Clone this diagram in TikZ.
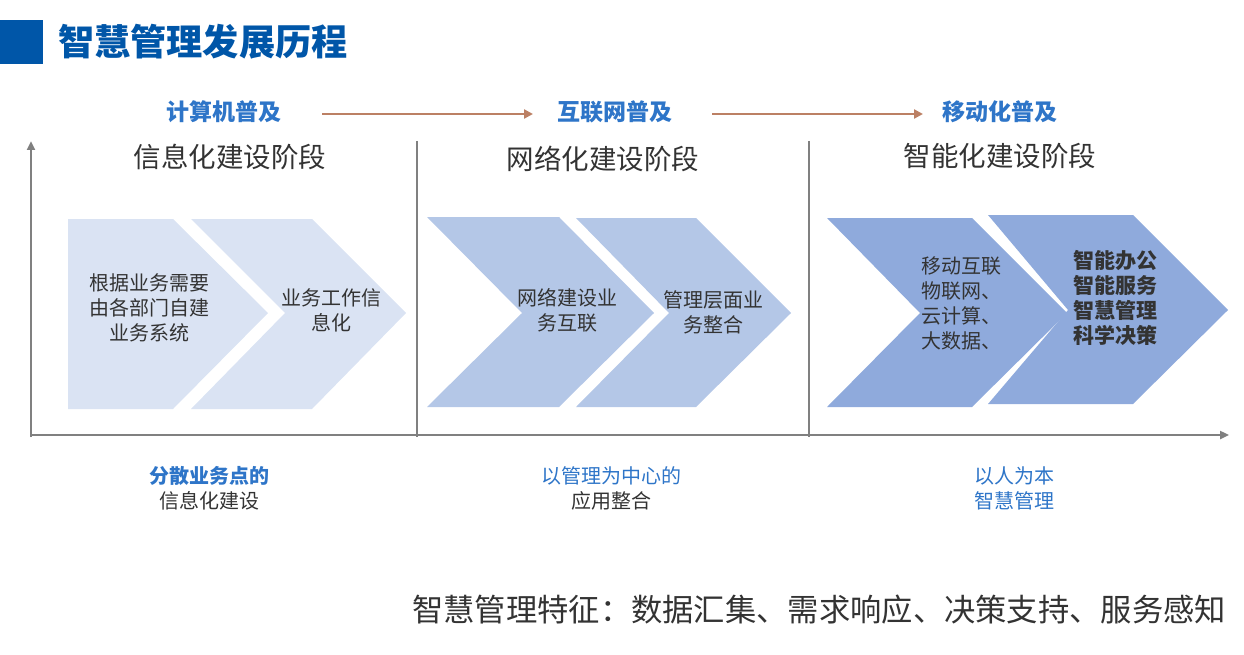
\documentclass[tikz,border=0pt]{standalone}
\usepackage{fontspec}
\setmainfont{Noto Sans CJK SC}
\usetikzlibrary{arrows.meta}
\definecolor{titleblue}{RGB}{0,86,168}
\definecolor{headblue}{RGB}{46,117,200}
\definecolor{arrowbrown}{RGB}{188,128,100}
\definecolor{axisgray}{RGB}{128,128,128}
\definecolor{textgray}{RGB}{51,51,51}
\definecolor{chevA}{RGB}{218,227,243}
\definecolor{chevB}{RGB}{180,199,231}
\definecolor{chevC}{RGB}{143,170,220}
\tikzset{
  txt/.style={inner sep=0pt, outer sep=0pt, text=textgray},
  headlabel/.style={txt, text=headblue, font=\fontsize{23}{26}\selectfont\bfseries},
  stagetitle/.style={txt, font=\fontsize{27.5}{30}\selectfont},
  chevtext/.style={txt, align=center, font=\fontsize{20}{25}\selectfont},
  bottomlabel/.style={txt, align=center, font=\fontsize{20}{25}\selectfont},
  axisline/.style={draw=axisgray, line width=2.5pt},
  brownarrow/.style={draw=arrowbrown, line width=2.5pt, -{Triangle[length=9pt,width=9pt]}},
}
\begin{document}
\begin{tikzpicture}[x=1pt,y=-1pt]
\useasboundingbox (0,0) rectangle (1244,655);
% title
\fill[titleblue] (0,20) rectangle (43,64);
\node[txt, anchor=west, text=titleblue, font=\fontsize{36.2}{40}\selectfont\bfseries] (title) at (58,42) {智慧管理发展历程};

% header labels and arrows
\node[headlabel] (h1) at (224,112) {计算机普及};
\node[headlabel] (h2) at (615,112) {互联网普及};
\node[headlabel] (h3) at (1000,112) {移动化普及};
\coordinate (a1s) at (322,114);
\coordinate (a1e) at (533,114);
\coordinate (a2s) at (712,114);
\coordinate (a2e) at (923,114);
\draw[brownarrow] (a1s) -- (a1e);
\draw[brownarrow] (a2s) -- (a2e);

% stage titles
\node[stagetitle] (s1) at (230,157) {信息化建设阶段};
\node[stagetitle] (s2) at (603,159) {网络化建设阶段};
\node[stagetitle] (s3) at (1000,156) {智能化建设阶段};

% axes
\coordinate (origin) at (31,435);
\coordinate (ytop) at (31,141);
\coordinate (xend) at (1229,435);
\coordinate (sep1t) at (417,141);
\coordinate (sep1b) at (417,437);
\coordinate (sep2t) at (809,141);
\coordinate (sep2b) at (809,437);
\draw[axisline, -{Triangle[length=9pt,width=8pt]}] (31,437) -- (ytop);
\draw[axisline, -{Triangle[length=9pt,width=8pt]}] (origin) -- (xend);
\draw[axisline] (sep1t) -- (sep1b);
\draw[axisline] (sep2t) -- (sep2b);

% stage 1 chevrons
\fill[chevA] (68,219) -- (173,219) -- (268,313) -- (173,409) -- (68,409) -- cycle;
\fill[chevA] (191,219) -- (312,219) -- (406,313) -- (312,409) -- (191,409) -- (285,313) -- cycle;
% stage 2 chevrons
\fill[chevB] (427,217) -- (559,217) -- (654,313) -- (559,407) -- (427,407) -- (522,313) -- cycle;
\fill[chevB] (576,218) -- (696,218) -- (791,313) -- (696,407) -- (576,407) -- (669,313) -- cycle;
% stage 3 chevrons
\fill[chevC] (827,218) -- (972,218) -- (1067,313) -- (972,407) -- (827,407) -- (920,313) -- cycle;
\fill[chevC] (988,215) -- (1133,215) -- (1228,310) -- (1133,404) -- (988,404) -- (1068,310) -- cycle;

% chevron texts
\node[chevtext] (c11) at (149,308) {根据业务需要\\由各部门自建\\业务系统};
\node[chevtext] (c12) at (331,310) {业务工作信\\息化};
\node[chevtext] (c21) at (567,310) {网络建设业\\务互联};
\node[chevtext] (c22) at (713,312) {管理层面业\\务整合};
\node[chevtext, align=left, anchor=west] (c31) at (921,303) {移动互联\\物联网、\\云计算、\\大数据、};
\node[chevtext, align=left, anchor=west, text=textgray, font=\fontsize{21}{25}\selectfont\bfseries] (c32) at (1073,298) {智能办公\\智能服务\\智慧管理\\科学决策};

% bottom labels
\node[bottomlabel] (b1) at (209,488) {{\color{headblue}\bfseries 分散业务点的}\\信息化建设};
\node[bottomlabel] (b2) at (611,488) {{\color{headblue}以管理为中心的}\\应用整合};
\node[bottomlabel, text=headblue] (b3) at (1014,488) {以人为本\\智慧管理};

% footer
\node[txt, anchor=east, font=\fontsize{31.3}{34}\selectfont] (footer) at (1226,610) {智慧管理特征：数据汇集、需求响应、决策支持、服务感知};
\end{tikzpicture}
\end{document}
